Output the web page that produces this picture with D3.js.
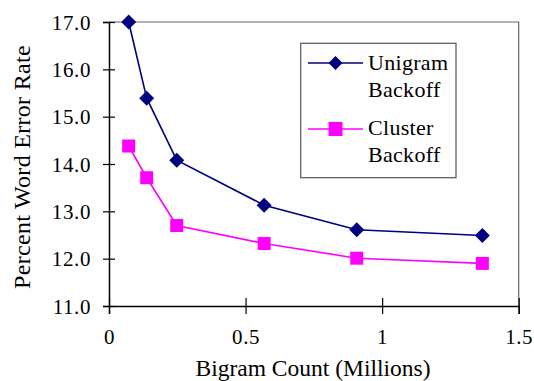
<!DOCTYPE html>
<html><head><meta charset="utf-8">
<script src="https://cdn.jsdelivr.net/npm/d3@7"></script>
<style>body{margin:0;background:#fff}svg{display:block}</style>
</head><body>
<svg id="c" width="534" height="381"></svg>
<script>
const xValues = [0.072, 0.138, 0.248, 0.568, 0.907, 1.367];
const unigram = [17.0, 15.39, 14.08, 13.13, 12.61, 12.49];
const cluster = [14.38, 13.71, 12.70, 12.32, 12.01, 11.90];
const xTicks = [0, 0.5, 1, 1.5];
const xTickLabels = ["0", "0.5", "1", "1.5"];
const yTicks = [11, 12, 13, 14, 15, 16, 17];
const seriesNames = [["Unigram", "Backoff"], ["Cluster", "Backoff"]];
const colors = ["#000080", "#FF00FF"];

const FONT = "'Liberation Serif'";
const svg = d3.select("#c");
const L = 109, R = 518.7, T = 22, B = 306;
const x = d3.scaleLinear().domain([0, 1.5]).range([L, R]);
const y = d3.scaleLinear().domain([11, 17]).range([B, T]);

svg.append("path").attr("d", `M${L},${T}H${R}V${B}`).attr("fill", "none").attr("stroke", "#666").attr("stroke-width", 1.2);

const yAxis = d3.axisLeft(y).tickValues(yTicks).tickFormat(d3.format(".1f")).tickSize(6).tickPadding(12);
const gy = svg.append("g").attr("transform", `translate(${L},0)`).call(yAxis);
const xAxis = d3.axisBottom(x).tickValues(xTicks).tickFormat((d, i) => xTickLabels[i]).tickSize(8).tickPadding(14);
const gx = svg.append("g").attr("transform", `translate(0,${B})`).call(xAxis);
[gx, gy].forEach(g => {
  g.select(".domain").attr("stroke", "#000").attr("stroke-width", 1.5);
  g.selectAll(".tick text").attr("fill", "#000")
    .style("font-family", FONT).style("font-size", "21px").style("letter-spacing", "0.6px");
});
gy.selectAll(".tick text").attr("dy", "0.34em");
gx.selectAll(".tick text").attr("dy", "0.75em");
gy.selectAll(".tick line").attr("x1", 6).attr("stroke", "#000").attr("stroke-width", 1.2);
gx.selectAll(".tick line").attr("y1", -8).attr("stroke", "#000").attr("stroke-width", 1.2);

svg.append("text").attr("x", 313).attr("y", 375.5).attr("text-anchor", "middle")
  .style("font-family", FONT).style("font-size", "23.5px").text("Bigram Count (Millions)");
svg.append("text").attr("transform", `translate(29.5,167) rotate(-90)`).attr("text-anchor", "middle")
  .style("font-family", FONT).style("font-size", "24px").style("letter-spacing", "0.3px").text("Percent Word Error Rate");

const line = d3.line().x(d => x(d[0])).y(d => y(d[1]));
const data = [unigram, cluster].map(s => s.map((v, i) => [xValues[i], v]));

data.forEach((pts, si) => {
  svg.append("path").datum(pts).attr("d", line).attr("fill", "none").attr("stroke", colors[si]).attr("stroke-width", 1.6);
});
const diamond = s => `M0,${-s}L${s},0L0,${s}L${-s},0Z`;
svg.append("g").selectAll("path").data(data[0]).join("path")
  .attr("transform", d => `translate(${x(d[0])},${y(d[1])})`).attr("d", diamond(7.5)).attr("fill", colors[0]);
svg.append("g").selectAll("rect").data(data[1]).join("rect")
  .attr("x", d => x(d[0]) - 6.5).attr("y", d => y(d[1]) - 6.5).attr("width", 13).attr("height", 13).attr("fill", colors[1]);

const lg = svg.append("g");
lg.append("rect").attr("x", 300.7).attr("y", 43.3).attr("width", 155.3).attr("height", 134.4).attr("fill", "#fff").attr("stroke", "#555").attr("stroke-width", 1.2);
const legY = [63, 129];
const legBase = [[70, 96.7], [135, 162]];
seriesNames.forEach((nm, i) => {
  lg.append("line").attr("x1", 308).attr("x2", 363).attr("y1", legY[i]).attr("y2", legY[i]).attr("stroke", colors[i]).attr("stroke-width", 1.6);
  if (i === 0) lg.append("path").attr("transform", `translate(335.5,${legY[i]})`).attr("d", diamond(7)).attr("fill", colors[0]);
  else lg.append("rect").attr("x", 328.5).attr("y", legY[i] - 7).attr("width", 14).attr("height", 14).attr("fill", colors[1]);
  nm.forEach((t, j) => {
    lg.append("text").attr("x", 368).attr("y", legBase[i][j])
      .style("font-family", FONT).style("font-size", "22px").style("letter-spacing", "0.3px").text(t);
  });
});
</script>
</body></html>
